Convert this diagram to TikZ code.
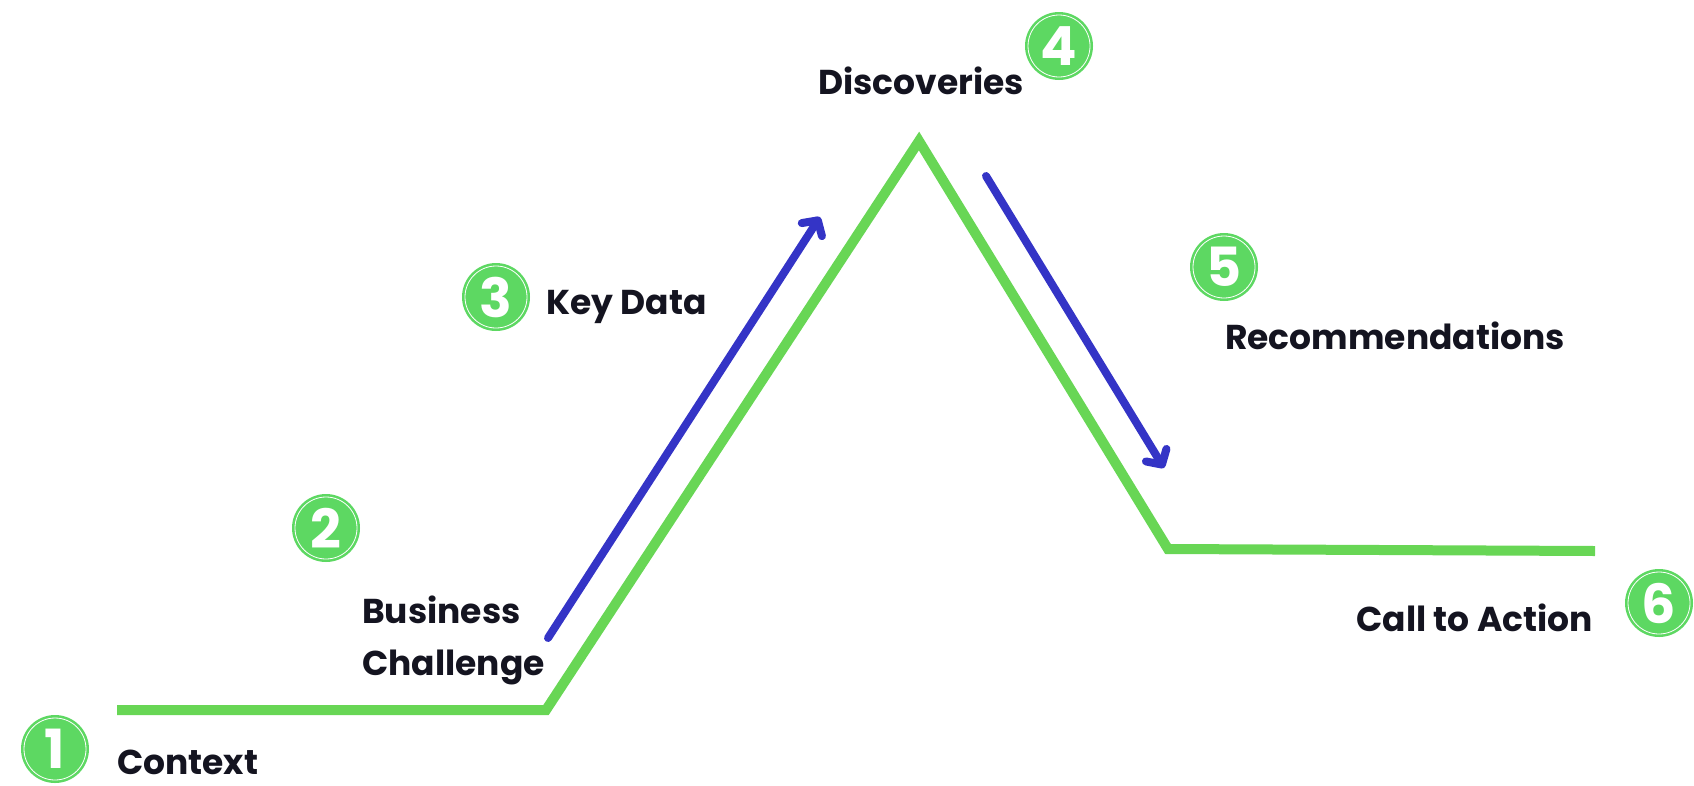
\documentclass[tikz,border=0pt]{standalone}
\usepackage{fontspec}
\setmainfont{Poppins}
\usetikzlibrary{arrows.meta}
\definecolor{arcgreen}{HTML}{68D655}
\definecolor{badgegreen}{HTML}{5DD862}
\definecolor{flowblue}{HTML}{3434C6}
\definecolor{labelink}{HTML}{141420}

\begin{document}
\begin{tikzpicture}[x=1pt, y=-1pt,
        every node/.style={font=\fontsize{34.5}{40}\selectfont\bfseries, text=labelink},
        lbl/.style={anchor=base west, align=left, inner sep=0pt},
        badge/.style={
          circle, fill=badgegreen, inner sep=0pt,
          minimum size=68pt, text=white,
          font=\fontsize{54}{54}\selectfont\bfseries,
          path picture={\draw[white, line width=0.8pt]
            (path picture bounding box.center) circle (31pt);},
        },
        arc/.style={draw=arcgreen, line width=10pt, line join=miter},
        flow/.style={-{Straight Barb[length=11pt, width=24pt, round]}, draw=flowblue,
          line width=8pt, line cap=round},
      ]
      \useasboundingbox (0,0) rectangle (1694,785);
      % story arc
      \coordinate (start) at (117,710);
      \coordinate (rise)  at (546,710);
      \coordinate (peak)  at (919,141);
      \coordinate (fall)  at (1168,549);
      \coordinate (end)   at (1595,551);
      \draw[arc] (start) -- (rise) -- (peak) -- (fall) -- (end);
      % blue direction arrows
      \coordinate (up0)   at (548,638);
      \coordinate (up1)   at (820,217);
      \coordinate (down0) at (986,176);
      \coordinate (down1) at (1164,468);
      \draw[flow] (up0) -- (up1);
      \draw[flow] (down0) -- (down1);
      % labels
      \node[lbl] (context) at (117,774) {Context};
      \node[lbl, font=\fontsize{34.5}{52}\selectfont\bfseries] (challenge) at (362,675) {Business\\Challenge};
      \node[lbl] (keydata) at (546,314) {Key Data};
      \node[lbl] (discov) at (818,94) {Discoveries};
      \node[lbl] (recomm) at (1225,349) {Recommendations};
      \node[lbl, anchor=base east] (action) at (1593,631) {Call to Action};
      % numbered badges
      \node[badge] (b1) at (55,749)   {1};
      \node[badge] (b2) at (326,528)  {2};
      \node[badge] (b3) at (496,297)  {3};
      \node[badge] (b4) at (1059,46)  {4};
      \node[badge] (b5) at (1224,267) {5};
      \node[badge] (b6) at (1659,603) {6};
    \end{tikzpicture}
\end{document}
